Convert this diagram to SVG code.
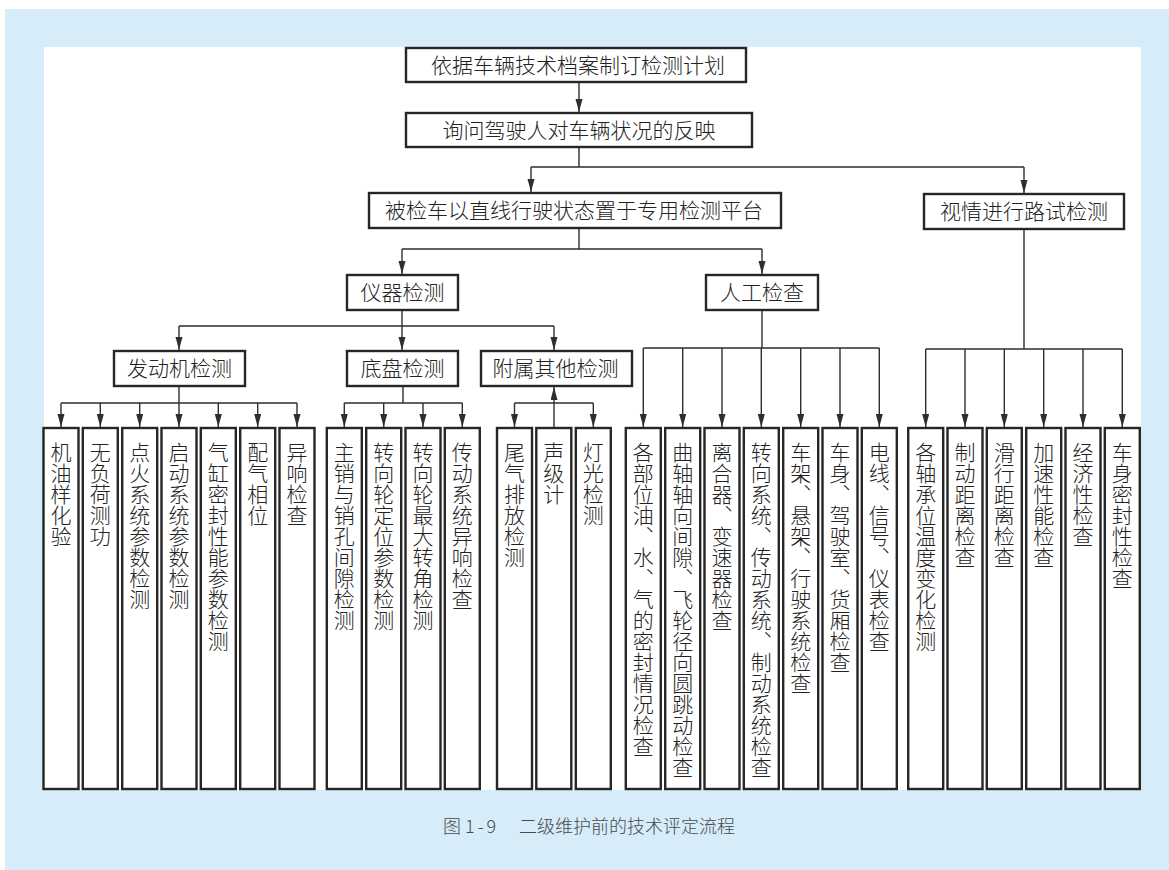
<svg xmlns="http://www.w3.org/2000/svg" width="1169" height="870" viewBox="0 0 1169 870">
<style>
.box{fill:#fff;stroke:#262626;stroke-width:2.4}
.ln{fill:none;stroke:#2e2e2e;stroke-width:1.4}
.ar{fill:none;stroke:#2e2e2e;stroke-width:1.4;marker-end:url(#ah)}
.t{font-family:"Noto Sans CJK SC","Liberation Sans",sans-serif;font-size:21px;font-weight:300;fill:#222;text-anchor:middle}
.v{font-family:"Noto Sans CJK SC","Liberation Sans",sans-serif;font-size:21px;font-weight:300;fill:#222;writing-mode:vertical-rl;text-anchor:start}
.cap{font-family:"Noto Sans CJK SC","Liberation Sans",sans-serif;font-size:18px;font-weight:300;fill:#4a4a4a}
</style>
<defs>
<marker id="ah" markerUnits="userSpaceOnUse" markerWidth="14" markerHeight="8" refX="13" refY="3.5" orient="auto">
<path d="M0,0 L13,3.5 L0,7 z" fill="#2e2e2e"/>
</marker>
</defs>
<rect x="5" y="9" width="1164" height="861" fill="#d6ecf9"/>
<rect x="44" y="47" width="1097" height="743" fill="#fff"/>

<g id="connectors">
<path class="ar" d="M579,82 V112"/>
<path class="ln" d="M579,147 V167 M531,167 H1024"/>
<path class="ar" d="M531,167 V192"/>
<path class="ar" d="M1024,167 V193"/>
<path class="ln" d="M579,228 V249 M402,249 H762"/>
<path class="ar" d="M402,249 V274"/>
<path class="ar" d="M762,249 V274"/>
<path class="ln" d="M402,310 V326 M179,326 H554"/>
<path class="ar" d="M179,326 V350"/>
<path class="ar" d="M402,326 V350"/>
<path class="ar" d="M554,326 V350"/>
<path class="ln" d="M179,386 V403 M61,403 H297"/>
<path class="ar" d="M61,403 V427"/>
<path class="ar" d="M100.3,403 V427"/>
<path class="ar" d="M139.7,403 V427"/>
<path class="ar" d="M179,403 V427"/>
<path class="ar" d="M218.3,403 V427"/>
<path class="ar" d="M257.7,403 V427"/>
<path class="ar" d="M297,403 V427"/>
<path class="ln" d="M403,386 V403 M344.3,403 H462.3"/>
<path class="ar" d="M344.3,403 V427"/>
<path class="ar" d="M383.7,403 V427"/>
<path class="ar" d="M423,403 V427"/>
<path class="ar" d="M462.3,403 V427"/>
<path class="ln" d="M514.5,403 H593.3"/>
<path class="ar" d="M554,428 V387"/>
<path class="ar" d="M514.5,403 V427"/>
<path class="ar" d="M593.3,403 V427"/>
<path class="ln" d="M762,310 V348 M643.3,348 H879.3"/>
<path class="ar" d="M643.3,348 V427"/>
<path class="ar" d="M682.7,348 V427"/>
<path class="ar" d="M722,348 V427"/>
<path class="ar" d="M761.3,348 V427"/>
<path class="ar" d="M800.7,348 V427"/>
<path class="ar" d="M840,348 V427"/>
<path class="ar" d="M879.3,348 V427"/>
<path class="ln" d="M1024,229 V349 M925.7,349 H1122.3"/>
<path class="ar" d="M925.7,349 V427"/>
<path class="ar" d="M965,349 V427"/>
<path class="ar" d="M1004.3,349 V427"/>
<path class="ar" d="M1043.7,349 V427"/>
<path class="ar" d="M1083,349 V427"/>
<path class="ar" d="M1122.3,349 V427"/>
</g>

<g id="n-plan"><rect class="box" x="406" y="48" width="340" height="34"/><text class="t" x="578" y="73">依据车辆技术档案制订检测计划</text></g>
<g id="n-ask"><rect class="box" x="406" y="113" width="346" height="34"/><text class="t" x="579" y="138">询问驾驶人对车辆状况的反映</text></g>
<g id="n-platform"><rect class="box" x="369" y="193" width="412" height="35"/><text class="t" x="574" y="218">被检车以直线行驶状态置于专用检测平台</text></g>
<g id="n-road"><rect class="box" x="924" y="194" width="200" height="35"/><text class="t" x="1024" y="219">视情进行路试检测</text></g>
<g id="n-instr"><rect class="box" x="347" y="275" width="111" height="35"/><text class="t" x="402.5" y="300">仪器检测</text></g>
<g id="n-manual"><rect class="box" x="706" y="275" width="112" height="35"/><text class="t" x="762" y="300">人工检查</text></g>
<g id="n-engine"><rect class="box" x="114" y="351" width="131" height="35"/><text class="t" x="179.5" y="376">发动机检测</text></g>
<g id="n-chassis"><rect class="box" x="347" y="351" width="111" height="35"/><text class="t" x="402.5" y="376">底盘检测</text></g>
<g id="n-acc"><rect class="box" x="481" y="351" width="151" height="35"/><text class="t" x="555.5" y="376">附属其他检测</text></g>

<g id="l-e1"><rect class="box" x="43.5" y="428" width="35" height="361"/><text class="v" x="61" y="442">机油样化验</text></g>
<g id="l-e2"><rect class="box" x="82.8" y="428" width="35" height="361"/><text class="v" x="100.3" y="442">无负荷测功</text></g>
<g id="l-e3"><rect class="box" x="122.2" y="428" width="35" height="361"/><text class="v" x="139.7" y="442">点火系统参数检测</text></g>
<g id="l-e4"><rect class="box" x="161.5" y="428" width="35" height="361"/><text class="v" x="179" y="442">启动系统参数检测</text></g>
<g id="l-e5"><rect class="box" x="200.8" y="428" width="35" height="361"/><text class="v" x="218.3" y="442">气缸密封性能参数检测</text></g>
<g id="l-e6"><rect class="box" x="240.2" y="428" width="35" height="361"/><text class="v" x="257.7" y="442">配气相位</text></g>
<g id="l-e7"><rect class="box" x="279.5" y="428" width="35" height="361"/><text class="v" x="297" y="442">异响检查</text></g>

<g id="l-c1"><rect class="box" x="326.8" y="428" width="35" height="361"/><text class="v" x="344.3" y="442">主销与销孔间隙检测</text></g>
<g id="l-c2"><rect class="box" x="366.2" y="428" width="35" height="361"/><text class="v" x="383.7" y="442">转向轮定位参数检测</text></g>
<g id="l-c3"><rect class="box" x="405.5" y="428" width="35" height="361"/><text class="v" x="423" y="442">转向轮最大转角检测</text></g>
<g id="l-c4"><rect class="box" x="444.8" y="428" width="35" height="361"/><text class="v" x="462.3" y="442">传动系统异响检查</text></g>

<g id="l-a1"><rect class="box" x="497" y="428" width="35" height="361"/><text class="v" x="514.5" y="442">尾气排放检测</text></g>
<g id="l-a2"><rect class="box" x="536.3" y="428" width="35" height="361"/><text class="v" x="553.8" y="442">声级计</text></g>
<g id="l-a3"><rect class="box" x="575.8" y="428" width="35" height="361"/><text class="v" x="593.3" y="442">灯光检测</text></g>

<g id="l-m1"><rect class="box" x="625.8" y="428" width="35" height="361"/><text class="v" x="643.3" y="442">各部位油、水、气的密封情况检查</text></g>
<g id="l-m2"><rect class="box" x="665.2" y="428" width="35" height="361"/><text class="v" x="682.7" y="442">曲轴轴向间隙、飞轮径向圆跳动检查</text></g>
<g id="l-m3"><rect class="box" x="704.5" y="428" width="35" height="361"/><text class="v" x="722" y="442">离合器、变速器检查</text></g>
<g id="l-m4"><rect class="box" x="743.8" y="428" width="35" height="361"/><text class="v" x="761.3" y="442">转向系统、传动系统、制动系统检查</text></g>
<g id="l-m5"><rect class="box" x="783.2" y="428" width="35" height="361"/><text class="v" x="800.7" y="442">车架、悬架、行驶系统检查</text></g>
<g id="l-m6"><rect class="box" x="822.5" y="428" width="35" height="361"/><text class="v" x="840" y="442">车身、驾驶室、货厢检查</text></g>
<g id="l-m7"><rect class="box" x="861.8" y="428" width="35" height="361"/><text class="v" x="879.3" y="442">电线、信号、仪表检查</text></g>

<g id="l-r1"><rect class="box" x="908.2" y="428" width="35" height="361"/><text class="v" x="925.7" y="442">各轴承位温度变化检测</text></g>
<g id="l-r2"><rect class="box" x="947.5" y="428" width="35" height="361"/><text class="v" x="965" y="442">制动距离检查</text></g>
<g id="l-r3"><rect class="box" x="986.8" y="428" width="35" height="361"/><text class="v" x="1004.3" y="442">滑行距离检查</text></g>
<g id="l-r4"><rect class="box" x="1026.2" y="428" width="35" height="361"/><text class="v" x="1043.7" y="442">加速性能检查</text></g>
<g id="l-r5"><rect class="box" x="1065.5" y="428" width="35" height="361"/><text class="v" x="1083" y="442">经济性检查</text></g>
<g id="l-r6"><rect class="box" x="1104.8" y="428" width="35" height="361"/><text class="v" x="1122.3" y="442">车身密封性检查</text></g>

<text class="cap" y="833"><tspan x="443">图</tspan><tspan x="465" letter-spacing="3">1-9</tspan><tspan x="519">二级维护前的技术评定流程</tspan></text>
</svg>
